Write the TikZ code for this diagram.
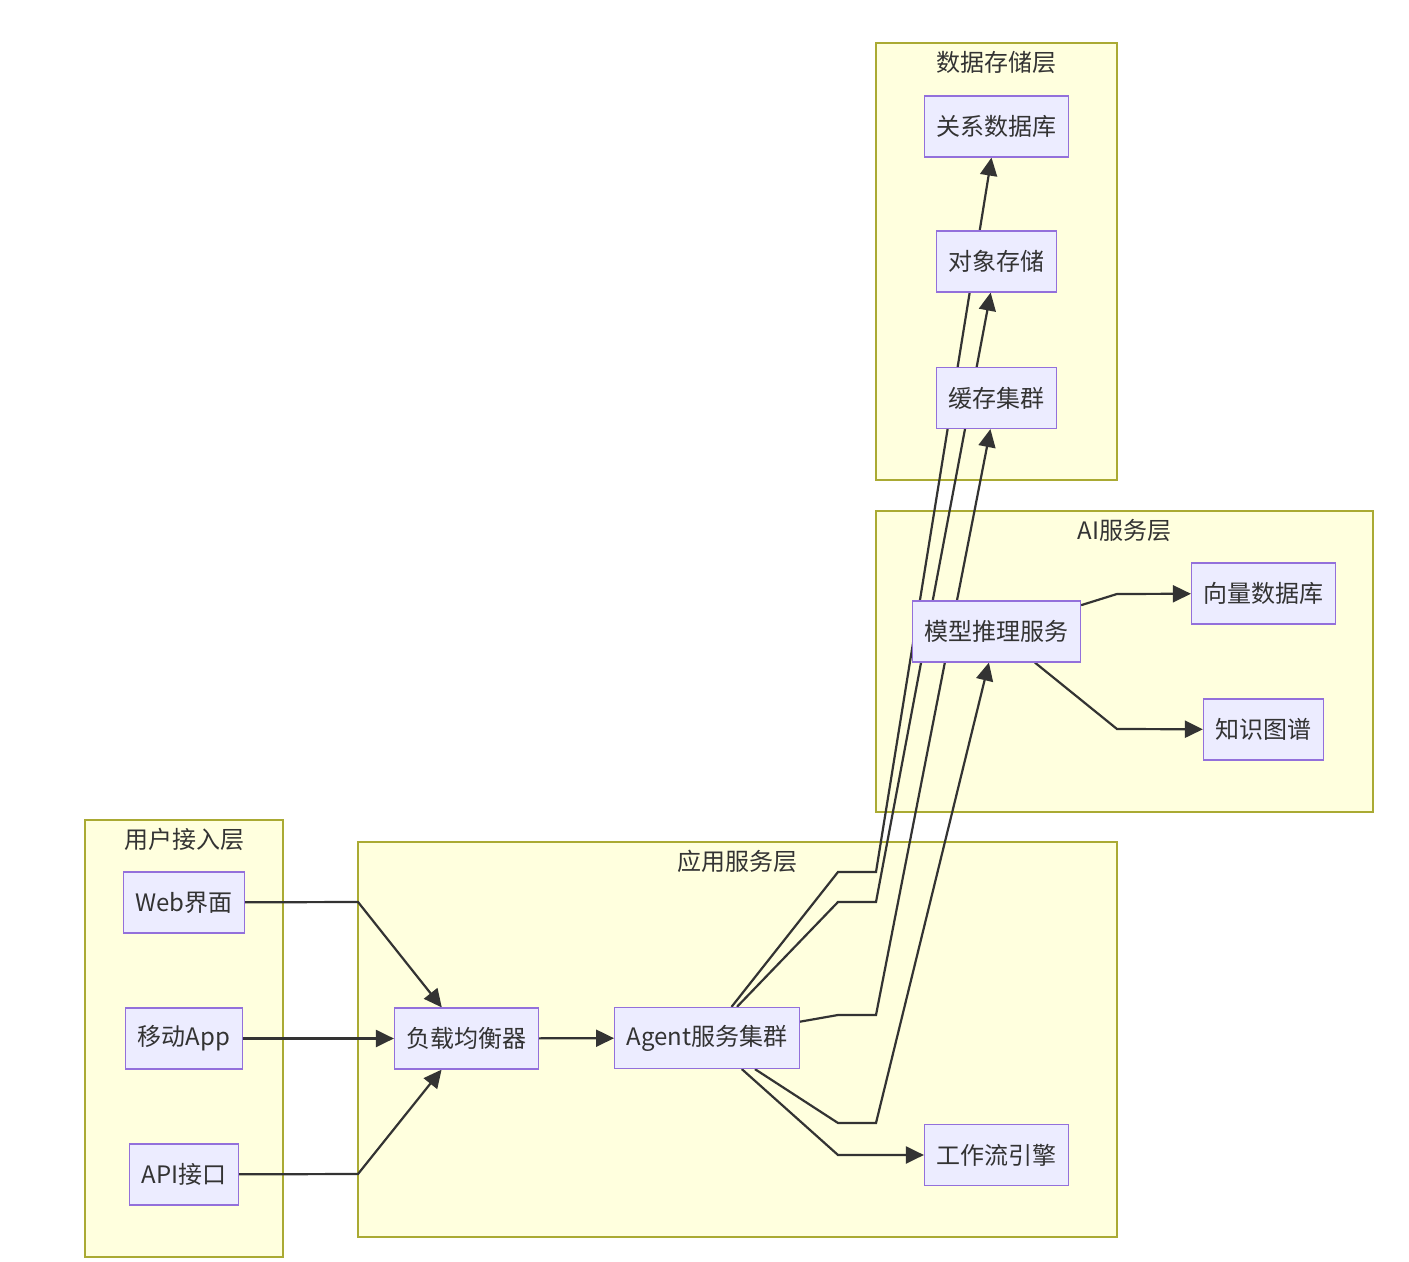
\documentclass[tikz,border=0pt]{standalone}
\usepackage{fontspec}
\setmainfont{Noto Sans CJK SC}
\usetikzlibrary{arrows.meta}
\pgfdeclarelayer{back}
\pgfdeclarelayer{links}
\pgfsetlayers{back,links,main}
\definecolor{nodefill}{HTML}{ECECFF}
\definecolor{nodeline}{HTML}{9370DB}
\definecolor{groupfill}{HTML}{FFFFDE}
\definecolor{groupline}{HTML}{AAAA33}
\definecolor{linkcol}{HTML}{333333}

\begin{document}
\begin{tikzpicture}[x=0.5pt, y=-0.5pt, >={Triangle[length=9pt,width=8.5pt]},
  box/.style={draw=nodeline, fill=nodefill, line width=0.6pt, minimum height=30.5pt,
    inner xsep=6pt, inner ysep=0pt, font=\fontsize{12}{14}\selectfont, text=linkcol},
  group/.style={draw=groupline, fill=groupfill, line width=0.6pt, inner sep=0pt},
  title/.style={font=\fontsize{12}{14}\selectfont, text=linkcol},
  flow/.style={->, draw=linkcol, line width=1.1pt}]
  \useasboundingbox (0,0) rectangle (1409,1262);

  % Layers (subgraphs)
  \begin{pgfonlayer}{back}
    \node[group, minimum width=99pt, minimum height=218.5pt] (userLayer) at (184,1038.5) {};
    \node[group, minimum width=379.5pt, minimum height=197.5pt] (appLayer) at (737.5,1039.5) {};
    \node[group, minimum width=248.5pt, minimum height=150.5pt] (aiLayer) at (1124.5,661.5) {};
    \node[group, minimum width=120.5pt, minimum height=218.5pt] (dataLayer) at (996.5,261.5) {};
  \end{pgfonlayer}
  \node[title] (userTitle) at ([yshift=-10pt]userLayer.north) {用户接入层};
  \node[title] (appTitle) at ([yshift=-10pt]appLayer.north) {应用服务层};
  \node[title] (aiTitle) at ([yshift=-10pt]aiLayer.north) {AI服务层};
  \node[title] (dataTitle) at ([yshift=-10pt]dataLayer.north) {数据存储层};

  % User access
  \node[box] (web) at (184,902.5) {Web界面};
  \node[box] (app) at (184,1038.5) {移动App};
  \node[box] (api) at (184,1174.5) {API接口};

  % Application services
  \node[box] (lb) at (466.5,1038.5) {负载均衡器};
  \node[box] (agent) at (707,1038) {Agent服务集群};
  \node[box] (wf) at (996.5,1155) {工作流引擎};

  % AI services
  \node[box] (model) at (996.5,631.5) {模型推理服务};
  \node[box] (vec) at (1263.5,593.5) {向量数据库};
  \node[box] (kg) at (1263.5,729.5) {知识图谱};

  % Data storage
  \node[box] (rdb) at (996.5,126.5) {关系数据库};
  \node[box] (obj) at (996.5,261.5) {对象存储};
  \node[box] (cache) at (996.5,398) {缓存集群};

  % Connectors
  \begin{pgfonlayer}{links}
    \draw[flow] (web) -- (358,902) -- (lb);
    \draw[flow] (app) -- (lb);
    \draw[flow] (api) -- (358,1174) -- (lb);
    \draw[flow] (lb) -- (agent);
    \draw[flow] (agent) -- (838,1155) -- (wf);
    \draw[flow] (agent) -- (838,1123) -- (876,1123) -- (model);
    \draw[flow] (agent) -- (838,1015) -- (876,1015) -- (cache);
    \draw[flow] (agent) -- (838,902) -- (876,902) -- (obj);
    \draw[flow] (agent) -- (838,872) -- (876,872) -- (rdb);
    \draw[flow] (model) -- (1117,594) -- (vec);
    \draw[flow] (model) -- (1117,729) -- (kg);
  \end{pgfonlayer}
\end{tikzpicture}
\end{document}
